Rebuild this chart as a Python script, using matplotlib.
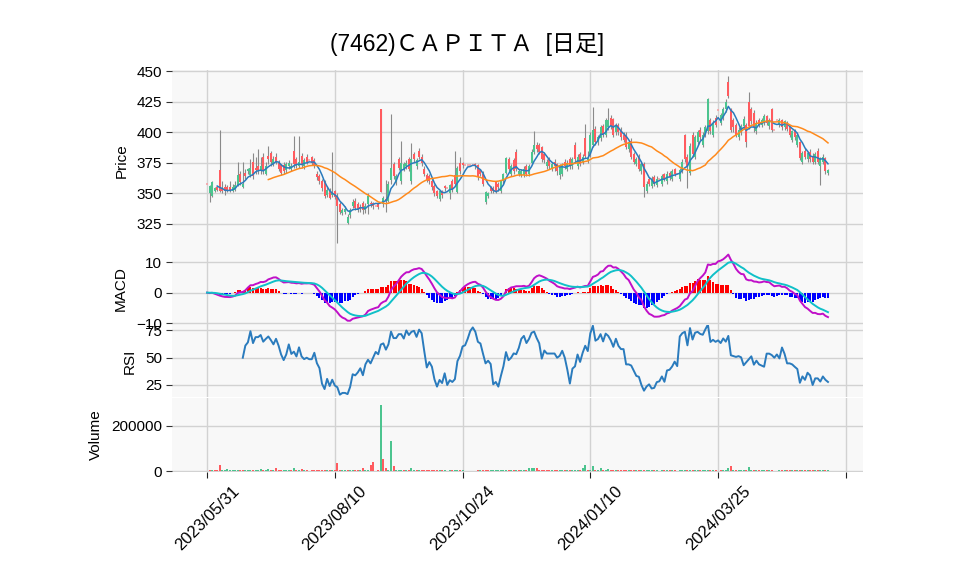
import numpy as np
import pandas as pd
import matplotlib
matplotlib.use("Agg")
import matplotlib.pyplot as plt

plt.rcParams['font.family'] = ['Liberation Sans', 'Noto Sans CJK JP', 'DejaVu Sans']

title = "(7462)ＣＡＰＩＴＡ  [日足]"
tick_positions = [0, 50, 100, 150, 200, 250]
tick_labels = ["2023/05/31", "2023/08/10", "2023/10/24", "2024/01/10", "2024/03/25", ""]

opens = [358,350,348,352,355,369,354,355,355,355,352,353,357,366,355,367,368,365,376,371,
         372,368,380,366,381,383,374,380,375,373,373,369,372,370,385,378,372,381,372,380,
         377,380,377,366,364,360,359,349,352,349,352,348,341,334,335,326,332,340,344,341,
         339,342,336,341,342,342,340,341,419,341,345,344,361,374,359,378,360,370,372,378,
         360,382,372,385,380,370,365,364,360,356,352,345,352,356,354,350,360,365,351,375,
         375,373,373,373,373,374,373,369,366,343,348,355,354,359,358,352,360,367,378,366,
         377,384,366,365,365,372,366,375,384,390,390,388,382,372,378,370,376,374,365,366,
         376,370,378,372,390,372,382,376,395,377,382,390,403,392,395,405,398,404,412,411,
         400,406,402,398,398,386,393,382,374,380,368,374,352,362,356,363,357,362,358,366,
         360,367,362,370,366,362,369,398,380,367,398,380,392,402,390,398,401,410,398,412,
         418,408,412,419,441,419,410,406,396,400,405,406,425,419,416,401,410,406,408,413,
         405,419,402,410,406,410,404,408,404,394,401,390,392,376,385,378,384,381,376,385,
         372,376,379,367]
closes = [358,356,359,354,353,352,352,352,353,353,355,357,365,359,358,364,370,371,364,369,
          369,372,368,372,378,376,378,376,370,367,368,374,375,372,374,373,376,373,377,376,
          377,375,373,363,360,354,348,353,346,350,347,340,335,336,337,331,336,343,338,337,
          337,336,340,348,341,340,340,339,351,346,344,358,371,364,364,371,375,374,375,370,
          378,378,377,380,375,366,361,360,355,350,348,352,349,354,354,357,353,358,371,368,
          373,373,373,373,373,372,363,366,358,351,350,352,352,352,355,360,366,379,370,372,
          368,370,368,368,370,366,372,384,390,386,384,378,377,376,372,374,372,368,372,373,
          372,375,372,378,378,380,374,380,381,379,398,402,392,396,404,398,410,410,405,398,
          406,400,396,394,388,392,380,376,378,370,374,355,358,358,362,358,362,362,364,362,
          366,363,368,366,366,369,376,378,372,389,382,396,400,396,398,404,427,401,408,406,
          418,414,419,425,430,402,404,398,402,405,411,392,405,409,404,408,406,410,413,408,
          410,402,402,410,410,404,409,403,398,401,396,398,379,383,380,383,378,376,382,376,
          378,380,368,369]
highs = [358,357,360,355,356,402,360,358,357,360,358,360,376,368,376,370,371,378,383,380,
         386,380,383,376,389,385,381,383,377,374,376,376,377,375,397,380,397,383,379,382,
         377,381,379,368,366,362,361,356,354,384,353,350,343,338,340,333,338,345,346,343,
         341,344,342,350,344,343,340,342,419,348,361,360,415,376,366,380,393,376,377,380,
         391,384,379,387,382,372,367,366,362,358,353,353,353,357,354,358,362,385,372,380,
         376,373,373,373,373,375,374,370,368,352,351,356,356,360,359,361,367,380,380,374,
         379,386,370,370,372,374,374,386,401,392,391,389,384,378,380,376,378,375,374,375,
         378,377,380,380,392,382,384,382,407,385,400,421,405,398,406,407,412,420,414,412,
         408,408,404,400,400,394,395,384,380,382,376,376,360,363,364,365,364,362,366,367,
         368,368,370,371,366,371,378,399,382,391,400,398,402,404,400,406,428,412,410,414,
         418,416,421,427,446,420,412,408,404,407,413,408,433,421,418,410,412,412,415,414,
         412,420,402,410,412,411,410,409,405,402,403,400,393,385,387,385,386,383,384,387,
         380,382,380,370]
lows = [358,343,347,351,352,351,350,349,351,351,351,352,356,357,354,362,366,363,362,366,
        366,366,366,365,374,372,372,374,368,365,366,367,370,368,371,371,371,371,370,374,
        377,373,371,361,358,352,346,347,345,347,345,309,333,332,333,325,330,338,336,335,
        335,333,334,333,339,337,340,337,351,339,335,343,358,362,357,369,358,368,370,368,
        358,376,370,378,372,364,359,358,353,348,346,344,346,352,354,345,351,356,350,366,
        371,373,373,373,373,370,361,364,356,341,346,350,350,350,352,350,358,366,368,364,
        366,368,364,363,363,364,364,374,382,384,382,376,375,370,370,368,368,365,362,364,
        370,368,370,370,376,370,372,374,379,375,380,388,390,390,393,396,396,402,403,396,
        398,398,394,392,386,384,378,374,372,368,366,347,350,356,354,356,355,362,356,360,
        358,361,360,364,366,360,367,376,354,365,380,378,390,394,388,396,399,399,396,404,
        418,406,410,417,428,400,400,396,394,398,403,388,403,407,400,399,404,404,406,406,
        403,400,402,410,404,402,402,401,396,392,394,388,377,374,378,376,376,374,374,374,
        357,374,366,365]
volumes = [0,5000,6000,4000,4000,27000,5000,4000,9000,4000,5000,4000,6000,5000,5000,4000,5000,5000,5000,4000,
           4000,9000,6000,6000,9000,5000,6000,13000,4000,4000,5000,5000,4000,4000,13000,4000,5000,9000,4000,4000,
           0,5000,4000,5000,4000,5000,5000,5000,5000,6000,6000,35000,6000,5000,5000,5000,5000,5000,4000,4000,
           4000,13000,5000,6000,27000,40000,0,6000,293000,53000,13000,6000,133000,22000,6000,6000,5000,4000,4000,4000,
           13000,5000,4000,5000,4000,4000,6000,4000,4000,4000,5000,4000,4000,4000,0,4000,4000,5000,4000,4000,
           4000,0,0,0,0,3000,5000,4000,4000,5000,4000,4000,4000,4000,4000,5000,4000,6000,4000,4000,
           4000,5000,4000,4000,4000,5000,13000,13000,13000,13000,5000,4000,4000,4000,4000,4000,4000,4000,5000,5000,
           4000,4000,4000,4000,4000,4000,5000,13000,27000,5000,5000,22000,6000,5000,13000,5000,5000,9000,4000,4000,
           4000,4000,4000,5000,4000,4000,4000,4000,4000,4000,4000,5000,4000,4000,4000,4000,4000,0,4000,4000,
           4000,4000,5000,4000,0,5000,6000,5000,4000,5000,4000,5000,4000,4000,4000,5000,6000,5000,5000,4000,
           1000,5000,4000,5000,13000,22000,5000,4000,4000,4000,4000,5000,18000,5000,4000,4000,4000,4000,4000,4000,
           4000,5000,0,1000,4000,4000,4000,4000,4000,4000,4000,4000,5000,4000,4000,4000,4000,4000,4000,4000,
           4000,4000,5000,4000]

o = np.array(opens, float)
c = np.array(closes, float)
h = np.array(highs, float)
l = np.array(lows, float)
v = np.array(volumes, float)
x = np.arange(len(c))

cs = pd.Series(c)
ma5 = cs.rolling(5).mean()
ma25 = cs.rolling(25).mean()
ema12 = cs.ewm(span=12, adjust=False).mean()
ema26 = cs.ewm(span=26, adjust=False).mean()
macd = ema12 - ema26
signal = macd.ewm(span=9, adjust=False).mean()
hist = macd - signal
d = cs.diff()
gain = d.clip(lower=0).rolling(14).mean()
loss = (-d.clip(upper=0)).rolling(14).mean()
rsi = 100 * gain / (gain + loss)

UP = '#4cc48f'
DOWN = '#ff5b5f'
FACE = '#f8f8f8'
GRID = '#d2d2d2'

fig = plt.figure(figsize=(9.58, 5.75), dpi=100)
L, W = 172/958, (863-172)/958
def mk(top, bot):
    return fig.add_axes([L, 1-bot/575, W, (bot-top)/575])
ax1 = mk(70, 252)
ax2 = mk(252, 325)
ax3 = mk(325, 397)
ax4 = mk(398, 472)

for ax in (ax1, ax2, ax3, ax4):
    ax.set_facecolor(FACE)
    ax.grid(True, color=GRID, lw=1.0)
    ax.set_axisbelow(True)
    for s in ax.spines.values():
        s.set_visible(False)
    ax.set_xlim(-13.7, 256.7)
    ax.set_xticks(tick_positions)
    ax.tick_params(axis='y', labelsize=11, length=4, color='#333333', pad=3)
    if ax is not ax4:
        ax.tick_params(axis='x', length=0, labelbottom=False)

# candles
up = c > o
dn = c < o
eq = c == o
ax1.vlines(x[~eq], l[~eq], h[~eq], color='#8a8a8a', lw=0.8, zorder=2)
ax1.bar(x[up], (c - o)[up], bottom=o[up], width=0.75, color=UP, zorder=3)
ax1.bar(x[dn], (c - o)[dn], bottom=o[dn], width=0.75, color=DOWN, zorder=3)
ax1.hlines(c[eq], x[eq] - 0.4, x[eq] + 0.4, color='#f4a3a6', lw=1.2, zorder=3)
ax1.plot(x, ma5, color='#2a7bbd', lw=1.1, zorder=4)
ax1.plot(x, ma25, color='#ff8a1c', lw=1.1, zorder=4)
ax1.set_ylim(302, 451)
ax1.set_yticks([325, 350, 375, 400, 425, 450])
ax1.set_ylabel('Price', fontsize=11, labelpad=6)

# MACD
hcol = np.where(hist.values >= 0, '#ff0000', '#0000ff')
ax2.bar(x, hist.values, width=0.8, color=hcol, zorder=2)
ax2.plot(x, macd, color='#c010c8', lw=1.4, zorder=3)
ax2.plot(x, signal, color='#10c0c8', lw=1.4, zorder=3)
ax2.set_ylim(-10.6, 13.3)
ax2.set_yticks([-10, 0, 10])
ax2.set_ylabel('MACD', fontsize=11, labelpad=6)

# RSI
ax3.plot(x, rsi, color='#2a7bbd', lw=1.4)
ax3.set_ylim(14, 80)
ax3.set_yticks([25, 50, 75])
ax3.set_ylabel('RSI', fontsize=11, labelpad=6)

# Volume
prev = np.concatenate([[c[0]], c[:-1]])
vcol = np.where(c >= prev, UP, DOWN)
ax4.bar(x, v, width=0.8, color=vcol, zorder=2)
ax4.set_ylim(-3000, 323000)
ax4.set_yticks([0, 200000])
ax4.set_yticklabels(['0', '200000'])
ax4.set_ylabel('Volume', fontsize=11, labelpad=6)
ax4.set_xticklabels(tick_labels, rotation=45, ha='center', fontsize=12)
ax4.tick_params(axis='x', length=4, color='#222222', pad=4)

fig.text(0.488, 0.922, title, ha='center', va='center', fontsize=16.5)

fig.savefig('out.png', dpi=100)
